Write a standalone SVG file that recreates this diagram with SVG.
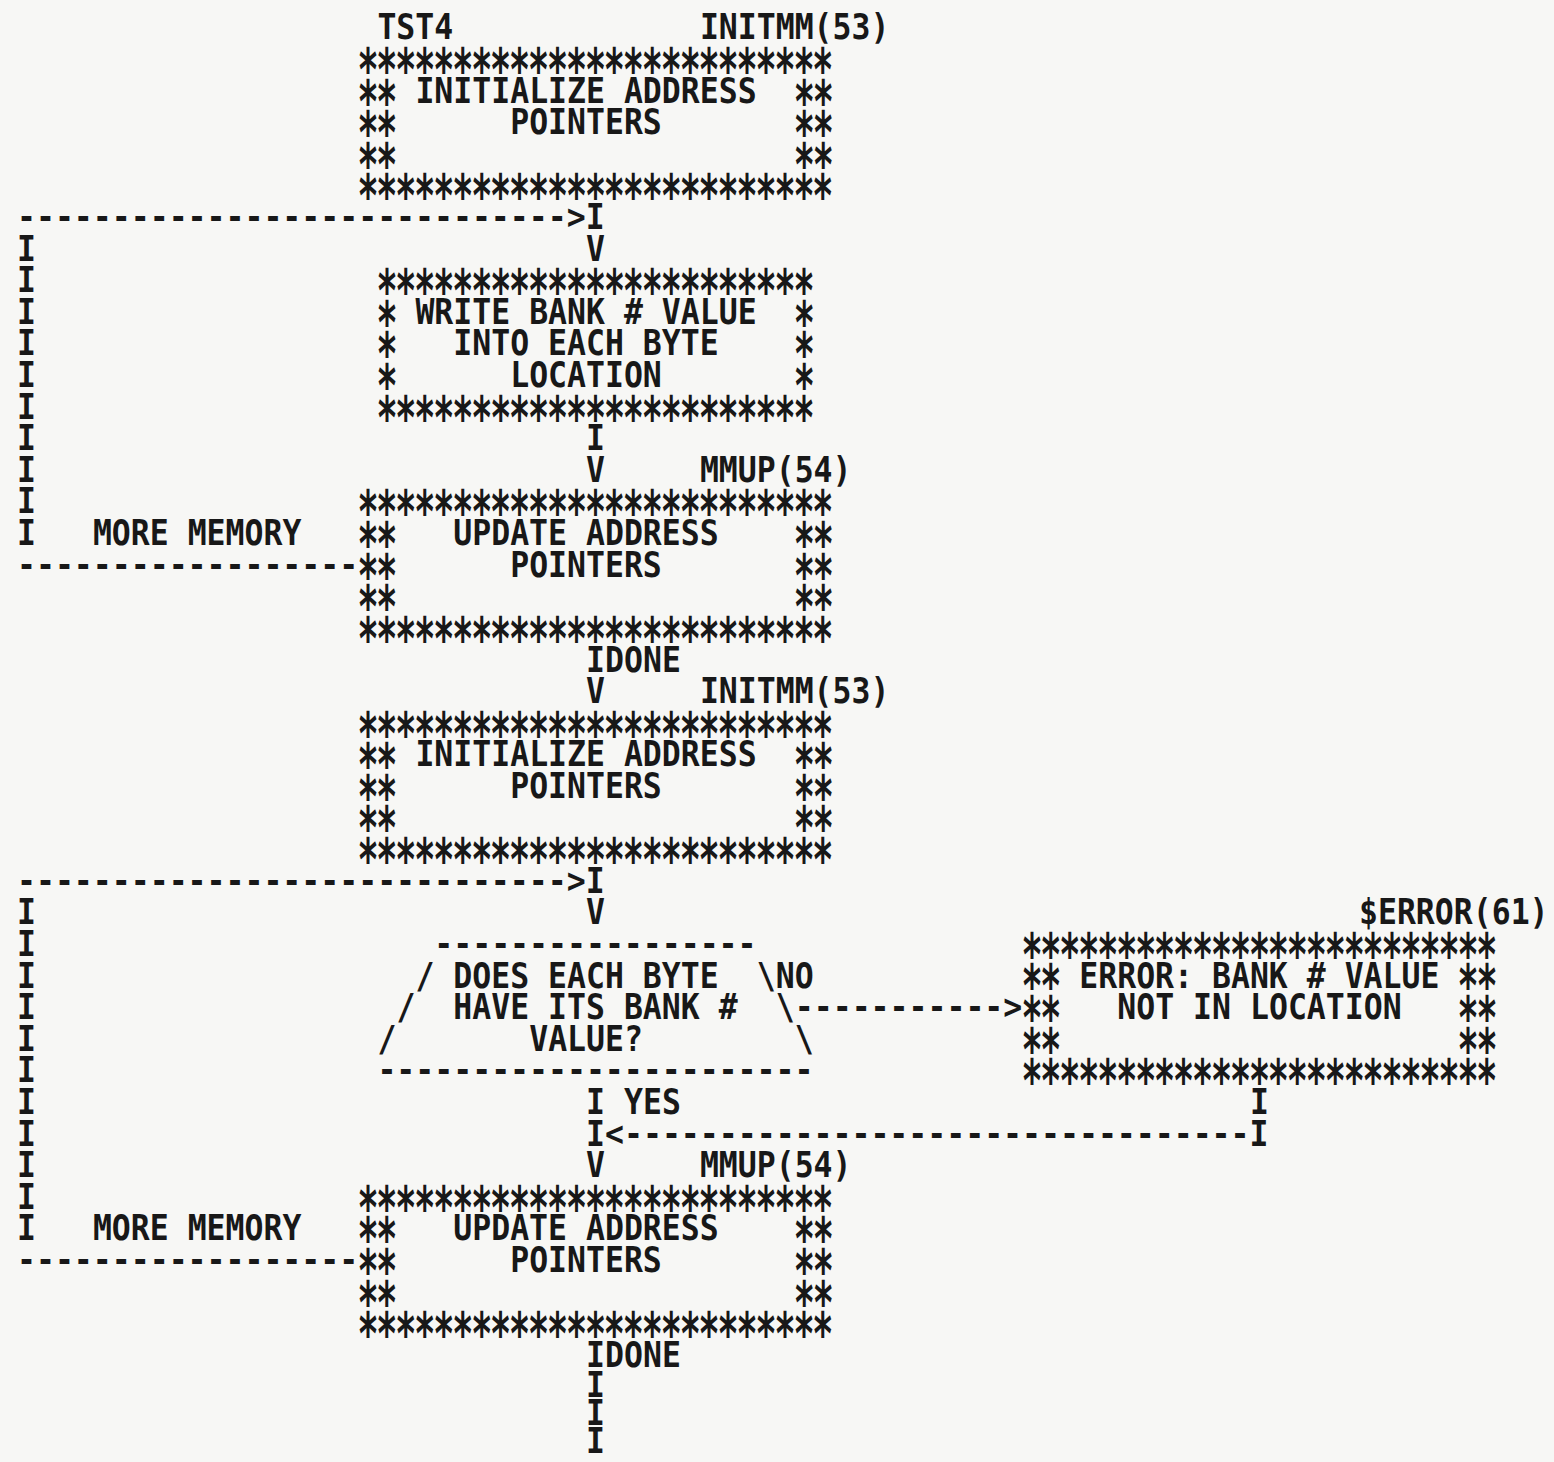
<svg xmlns="http://www.w3.org/2000/svg" width="1554" height="1462" viewBox="0 0 1554 1462">
<style>
text{font-family:"DejaVu Sans Mono","Liberation Mono",monospace;font-weight:bold;font-size:31.5px;fill:#181818}
.st{font-size:35px;letter-spacing:-2.107px;transform-box:fill-box;transform-origin:50% 50%;transform:translate(0px,10.7px) scale(1,1.5)}
</style>
<rect width="1554" height="1462" fill="#f7f7f5"/>
<g id="node-init1" transform="scale(1,1.13)">
<text x="377.4" y="34.96">TST4</text>
<text x="699.9" y="34.96">INITMM(53)</text>
<text class="st" x="357.4" y="62.92">*************************</text>
<text class="st" x="357.4" y="90.89">**</text>
<text x="415.4" y="90.89">INITIALIZE ADDRESS</text>
<text class="st" x="793.7" y="90.89">**</text>
<text class="st" x="357.4" y="118.85">**</text>
<text x="510.2" y="118.85">POINTERS</text>
<text class="st" x="793.7" y="118.85">**</text>
<text class="st" x="357.4" y="146.82">**</text>
<text class="st" x="793.7" y="146.82">**</text>
<text class="st" x="357.4" y="174.78">*************************</text>
</g>
<g id="node-write" transform="scale(1,1.13)">
<text class="st" x="376.4" y="258.68">***********************</text>
<text class="st" x="376.4" y="286.64">*</text>
<text x="415.4" y="286.64">WRITE BANK # VALUE</text>
<text class="st" x="793.7" y="286.64">*</text>
<text class="st" x="376.4" y="314.61">*</text>
<text x="453.3" y="314.61">INTO EACH BYTE</text>
<text class="st" x="793.7" y="314.61">*</text>
<text class="st" x="376.4" y="342.57">*</text>
<text x="510.2" y="342.57">LOCATION</text>
<text class="st" x="793.7" y="342.57">*</text>
<text class="st" x="376.4" y="370.54">***********************</text>
</g>
<g id="node-update1" transform="scale(1,1.13)">
<text x="699.9" y="426.47">MMUP(54)</text>
<text class="st" x="357.4" y="454.43">*************************</text>
<text class="st" x="357.4" y="482.40">**</text>
<text x="453.3" y="482.40">UPDATE ADDRESS</text>
<text class="st" x="793.7" y="482.40">**</text>
<text class="st" x="357.4" y="510.36">**</text>
<text x="510.2" y="510.36">POINTERS</text>
<text class="st" x="793.7" y="510.36">**</text>
<text class="st" x="357.4" y="538.33">**</text>
<text class="st" x="793.7" y="538.33">**</text>
<text class="st" x="357.4" y="566.29">*************************</text>
</g>
<g id="node-init2" transform="scale(1,1.13)">
<text x="699.9" y="622.22">INITMM(53)</text>
<text class="st" x="357.4" y="650.19">*************************</text>
<text class="st" x="357.4" y="678.15">**</text>
<text x="415.4" y="678.15">INITIALIZE ADDRESS</text>
<text class="st" x="793.7" y="678.15">**</text>
<text class="st" x="357.4" y="706.12">**</text>
<text x="510.2" y="706.12">POINTERS</text>
<text class="st" x="793.7" y="706.12">**</text>
<text class="st" x="357.4" y="734.08">**</text>
<text class="st" x="793.7" y="734.08">**</text>
<text class="st" x="357.4" y="762.05">*************************</text>
</g>
<g id="node-decision" transform="scale(1,1.13)">
<text x="434.3" y="845.94">-----------------</text>
<text x="415.4" y="873.91">/</text>
<text x="453.3" y="873.91">DOES EACH BYTE</text>
<text x="756.8" y="873.91">\</text>
<text x="396.4" y="901.87">/</text>
<text x="453.3" y="901.87">HAVE ITS BANK #</text>
<text x="775.8" y="901.87">\</text>
<text x="377.4" y="929.84">/</text>
<text x="529.2" y="929.84">VALUE?</text>
<text x="794.8" y="929.84">\</text>
<text x="377.4" y="957.80">-----------------------</text>
</g>
<g id="node-error" transform="scale(1,1.13)">
<text x="1359" y="817.98">$ERROR(61)</text>
<text class="st" x="1021.4" y="845.94">*************************</text>
<text class="st" x="1021.4" y="873.91">**</text>
<text x="1079.3" y="873.91">ERROR: BANK # VALUE</text>
<text class="st" x="1457.6" y="873.91">**</text>
<text class="st" x="1021.4" y="901.87">**</text>
<text x="1117.3" y="901.87">NOT IN LOCATION</text>
<text class="st" x="1457.6" y="901.87">**</text>
<text class="st" x="1021.4" y="929.84">**</text>
<text class="st" x="1457.6" y="929.84">**</text>
<text class="st" x="1021.4" y="957.80">*************************</text>
</g>
<g id="node-update2" transform="scale(1,1.13)">
<text x="699.9" y="1041.70">MMUP(54)</text>
<text class="st" x="357.4" y="1069.66">*************************</text>
<text class="st" x="357.4" y="1097.63">**</text>
<text x="453.3" y="1097.63">UPDATE ADDRESS</text>
<text class="st" x="793.7" y="1097.63">**</text>
<text class="st" x="357.4" y="1125.59">**</text>
<text x="510.2" y="1125.59">POINTERS</text>
<text class="st" x="793.7" y="1125.59">**</text>
<text class="st" x="357.4" y="1153.56">**</text>
<text class="st" x="793.7" y="1153.56">**</text>
<text class="st" x="357.4" y="1181.52">*************************</text>
</g>
<g id="connectors" transform="scale(1,1.13)">
<text x="17" y="202.75">-----------------------------&gt;I</text>
<text x="586.1" y="230.71">V</text>
<text x="586.1" y="398.50">I</text>
<text x="586.1" y="426.47">V</text>
<text x="17" y="230.71">I</text>
<text x="17" y="258.68">I</text>
<text x="17" y="286.64">I</text>
<text x="17" y="314.61">I</text>
<text x="17" y="342.57">I</text>
<text x="17" y="370.54">I</text>
<text x="17" y="398.50">I</text>
<text x="17" y="426.47">I</text>
<text x="17" y="454.43">I</text>
<text x="17" y="482.40">I</text>
<text x="92.9" y="482.40">MORE MEMORY</text>
<text x="17" y="510.36">------------------</text>
<text x="586.1" y="594.26">IDONE</text>
<text x="586.1" y="622.22">V</text>
<text x="17" y="790.01">-----------------------------&gt;I</text>
<text x="586.1" y="817.98">V</text>
<text x="17" y="817.98">I</text>
<text x="17" y="845.94">I</text>
<text x="17" y="873.91">I</text>
<text x="17" y="901.87">I</text>
<text x="17" y="929.84">I</text>
<text x="17" y="957.80">I</text>
<text x="17" y="985.77">I</text>
<text x="17" y="1013.73">I</text>
<text x="17" y="1041.70">I</text>
<text x="17" y="1069.66">I</text>
<text x="17" y="1097.63">I</text>
<text x="92.9" y="1097.63">MORE MEMORY</text>
<text x="17" y="1125.59">------------------</text>
<text x="775.8" y="873.91">NO</text>
<text x="794.8" y="901.87">-----------&gt;</text>
<text x="586.1" y="985.77">I YES</text>
<text x="1250.1" y="985.77">I</text>
<text x="586.1" y="1013.73">I&lt;---------------------------------I</text>
<text x="586.1" y="1041.70">V</text>
<text x="586.1" y="1209.49">IDONE</text>
<text x="586.1" y="1236">I</text>
<text x="586.1" y="1261">I</text>
<text x="586.1" y="1285.5">I</text>
</g>
</svg>
